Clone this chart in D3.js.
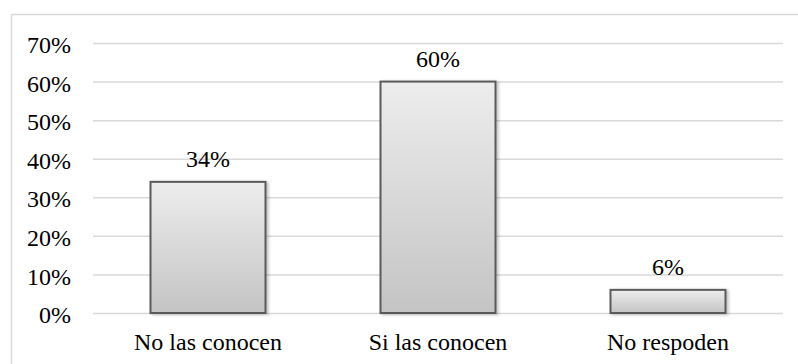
<!DOCTYPE html>
<html>
<head>
<meta charset="utf-8">
<script src="https://cdn.jsdelivr.net/npm/d3@7"></script>
<style>
  html, body { margin: 0; padding: 0; background: #fff; }
  svg { display: block; }
</style>
</head>
<body>
<svg id="chart" width="798" height="364" style="font-family:'Liberation Serif';font-size:24px"></svg>
<script>
// Responses: does the respondent know them?
const categories = ["No las conocen", "Si las conocen", "No respoden"];
const shares = [34, 60, 6];
const tickValues = [0, 10, 20, 30, 40, 50, 60, 70];

const W = 798, H = 364;
const margin = { left: 93, right: 15, top: 43, bottom: 51 };
const TEXT_STYLE = "font-family:'Liberation Serif';font-size:24px";

const svg = d3.select("#chart");

// chart-area frame
svg.append("rect")
  .attr("x", 11.5).attr("y", 14.5)
  .attr("width", W + 10).attr("height", H + 10)
  .attr("fill", "none").attr("stroke", "#d9d9d9").attr("stroke-width", 1.5);

const x = d3.scaleBand()
  .domain(categories)
  .range([margin.left, W - margin.right])
  .paddingInner(0.5).paddingOuter(0.25);

const y = d3.scaleLinear()
  .domain([0, 70])
  .range([H - margin.bottom, margin.top]);

// bar gradient
const defs = svg.append("defs");
const grad = defs.append("linearGradient")
  .attr("id", "barFill").attr("x1", 0).attr("y1", 0).attr("x2", 0).attr("y2", 1);
grad.append("stop").attr("offset", "0%").attr("stop-color", "#ededed");
grad.append("stop").attr("offset", "100%").attr("stop-color", "#c4c4c4");

const shadow = defs.append("filter").attr("id", "shadow")
  .attr("x", "-10%").attr("y", "-10%").attr("width", "130%").attr("height", "130%");
shadow.append("feDropShadow")
  .attr("dx", 2).attr("dy", 1).attr("stdDeviation", 1.5)
  .attr("flood-color", "#000").attr("flood-opacity", 0.25);

// gridlines + y axis labels
const yAxis = d3.axisLeft(y)
  .tickValues(tickValues)
  .tickSize(-(W - margin.right - margin.left))
  .tickPadding(22)
  .tickFormat(d => d + "%");

const gy = svg.append("g")
  .attr("transform", `translate(${margin.left},0)`)
  .call(yAxis);
gy.attr("font-family", null).attr("font-size", null);
gy.select(".domain").remove();
gy.selectAll(".tick line").attr("stroke", "#d9d9d9").attr("stroke-width", 1.5);
gy.selectAll(".tick text")
  .attr("style", TEXT_STYLE)
  .attr("dy", "0.4em")
  .attr("fill", "#000");

// bars
svg.append("g").selectAll("rect")
  .data(shares)
  .join("rect")
  .attr("x", (d, i) => x(categories[i]))
  .attr("y", d => y(d))
  .attr("width", x.bandwidth())
  .attr("height", d => y(0) - y(d))
  .attr("fill", "url(#barFill)")
  .attr("stroke", "#5a5a5a")
  .attr("stroke-width", 2)
  .attr("filter", "url(#shadow)");

// value labels
svg.append("g").selectAll("text")
  .data(shares)
  .join("text")
  .attr("x", (d, i) => x(categories[i]) + x.bandwidth() / 2)
  .attr("y", d => y(d) - 15)
  .attr("text-anchor", "middle")
  .attr("style", TEXT_STYLE)
  .attr("fill", "#000")
  .text(d => d + "%");

// category axis
const xAxis = d3.axisBottom(x).tickSize(0).tickPadding(20);
const gx = svg.append("g")
  .attr("transform", `translate(0,${y(0)})`)
  .call(xAxis);
gx.attr("font-family", null).attr("font-size", null);
gx.select(".domain").remove();
gx.selectAll(".tick text")
  .attr("style", TEXT_STYLE)
  .attr("fill", "#000");
</script>
</body>
</html>
